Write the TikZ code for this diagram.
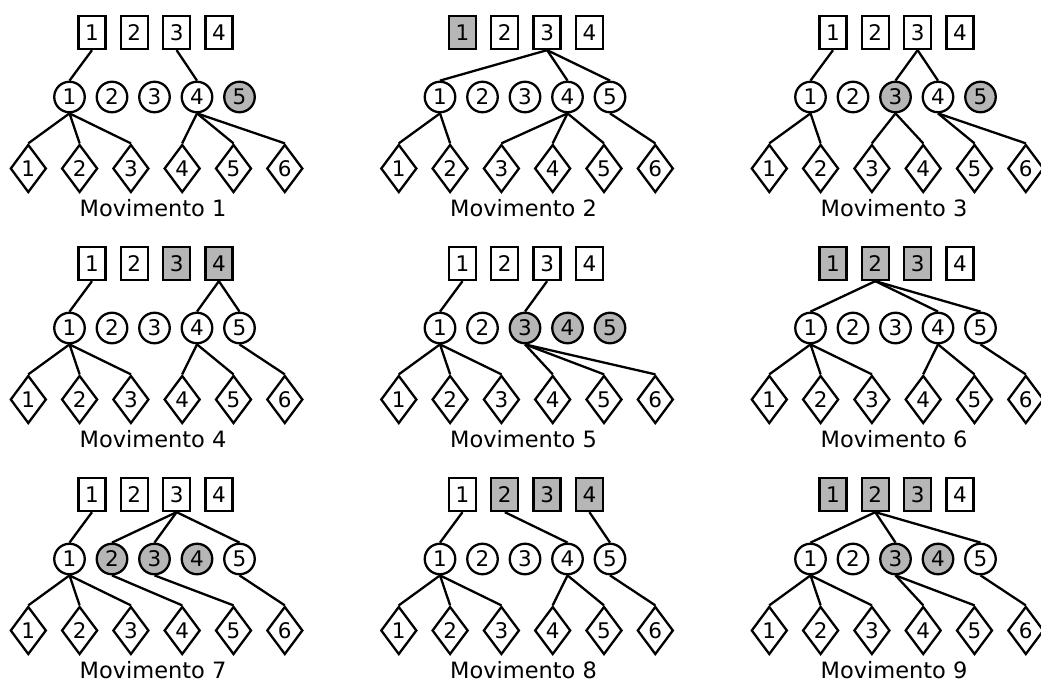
\documentclass[tikz,border=0pt]{standalone}
\usepackage{fontspec}
\setmainfont{DejaVu Sans}
\usetikzlibrary{shapes.geometric}
\definecolor{shade}{RGB}{182,182,182}
\tikzset{
  base/.style={draw=black, line width=2.3pt, inner sep=0pt, fill=white, font=\fontsize{21.5}{21.5}\selectfont},
  sq/.style={base, rectangle, minimum width=27pt, minimum height=33pt},
  crc/.style={base, circle, minimum size=30.5pt},
  dmd/.style={base, diamond, minimum width=36pt, minimum height=48pt},
  lbl/.style={inner sep=0pt, font=\fontsize{22.5}{22.5}\selectfont},
  edge/.style={line width=2.3pt},
  filled/.style={fill=shade}
}
% #1 panel id, #2 x offset, #3 y offset
\newcommand\mkpanel[3]{%
  \begin{scope}[shift={(#2,#3)}]
    \foreach \i/\x in {1/92,2/134.3,3/176.6,4/218.9}
      \node[sq, f#1s\i/.try] (p#1s\i) at (\x,32.5) {\i};
    \foreach \i/\x in {1/69.5,2/112,3/154.5,4/197,5/239.5}
      \node[crc, f#1c\i/.try] (p#1c\i) at (\x,97) {\i};
    \foreach \i/\x in {1/28.3,2/79.6,3/130.9,4/182.2,5/233.5,6/284.8}
      \node[dmd] (p#1d\i) at (\x,168.5) {\i};
    \node[lbl] (p#1l) at (153,208.5) {Movimento #1};
  \end{scope}}
\newcommand\mkedges[2]{%
  \foreach \a/\b in {#2} \draw[edge] (p#1\a.south) -- (p#1\b.north);}

\tikzset{
  f1c5/.style={filled},
  f2s1/.style={filled},
  f3c3/.style={filled}, f3c5/.style={filled},
  f4s3/.style={filled}, f4s4/.style={filled},
  f5c3/.style={filled}, f5c4/.style={filled}, f5c5/.style={filled},
  f6s1/.style={filled}, f6s2/.style={filled}, f6s3/.style={filled},
  f7c2/.style={filled}, f7c3/.style={filled}, f7c4/.style={filled},
  f8s2/.style={filled}, f8s3/.style={filled}, f8s4/.style={filled},
  f9s1/.style={filled}, f9s2/.style={filled}, f9s3/.style={filled}, f9c3/.style={filled}, f9c4/.style={filled}
}

\begin{document}
\begin{tikzpicture}[x=1pt, y=-1pt]
\useasboundingbox (0,0) rectangle (1041,684);
\fill[white] (0,0) rectangle (1041,684);
\mkpanel{1}{0}{0}
\mkpanel{2}{370.5}{0}
\mkpanel{3}{741}{0}
\mkpanel{4}{0}{231}
\mkpanel{5}{370.5}{231}
\mkpanel{6}{741}{231}
\mkpanel{7}{0}{462}
\mkpanel{8}{370.5}{462}
\mkpanel{9}{741}{462}
\mkedges{1}{s1/c1, s3/c4, c1/d1, c1/d2, c1/d3, c4/d4, c4/d5, c4/d6}
\mkedges{2}{s3/c1, s3/c4, s3/c5, c1/d1, c1/d2, c4/d3, c4/d4, c4/d5, c5/d6}
\mkedges{3}{s1/c1, s3/c3, s3/c4, c1/d1, c1/d2, c3/d3, c3/d4, c4/d5, c4/d6}
\mkedges{4}{s1/c1, s4/c4, s4/c5, c1/d1, c1/d2, c1/d3, c4/d4, c4/d5, c5/d6}
\mkedges{5}{s1/c1, s3/c3, c1/d1, c1/d2, c1/d3, c3/d4, c3/d5, c3/d6}
\mkedges{6}{s2/c1, s2/c4, s2/c5, c1/d1, c1/d2, c1/d3, c4/d4, c4/d5, c5/d6}
\mkedges{7}{s1/c1, s3/c2, s3/c3, s3/c5, c1/d1, c1/d2, c1/d3, c2/d4, c3/d5, c5/d6}
\mkedges{8}{s1/c1, s2/c4, s4/c5, c1/d1, c1/d2, c1/d3, c4/d4, c4/d5, c5/d6}
\mkedges{9}{s2/c1, s2/c3, s2/c5, c1/d1, c1/d2, c1/d3, c3/d4, c3/d5, c5/d6}
\end{tikzpicture}
\end{document}
